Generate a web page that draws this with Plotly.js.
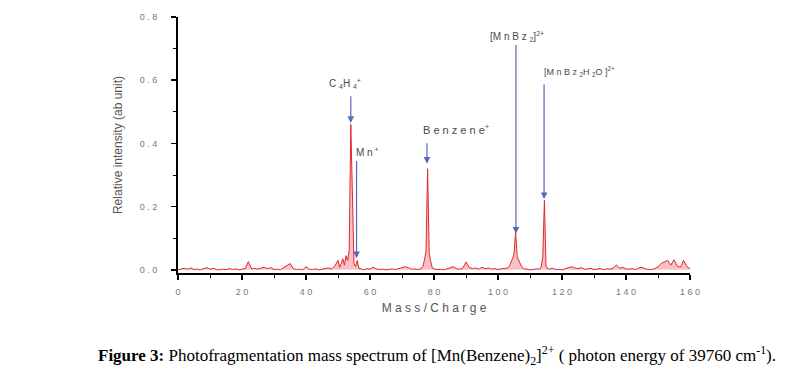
<!DOCTYPE html>
<html>
<head>
<meta charset="utf-8">
<script src="https://cdn.plot.ly/plotly-3.0.1.min.js"></script>
<style>html,body{margin:0;padding:0;background:#fff;}#chart{width:786px;height:380px;}</style>
</head>
<body>
<div id="chart"></div>
<script>
// Mass/Charge values
const massCharge = [
  0,1,2,3,4,5,6,7,8,9,10,11,12,13,14,15,16,17,18,19,20,21,22,23,24,25,26,27,28,29,30,
  31,32,33,34,35,36,37,38,39,40,41,42,43,44,45,46,47,48,49,50,
  50.5,51,51.5,52,52.5,53,53.5,54,54.5,55,55.5,56,56.5,57,57.5,58,
  59,60,61,62,63,64,65,66,67,68,69,70,71,72,73,74,75,76,
  76.5,77,77.5,78,78.5,79,79.5,
  80,81,82,83,84,85,86,87,88,89,90,91,92,93,94,95,96,97,98,99,100,101,102,103,
  103.5,104,104.5,105,105.5,106,106.5,107,107.5,
  108,109,110,111,112,113,
  113.5,114,114.5,115,115.5,
  116,117,118,119,120,121,122,123,124,125,126,127,128,129,130,131,132,133,134,135,
  136,137,138,139,140,141,142,143,144,145,146,147,148,149,150,151,152,153,154,155,
  156,157,158,159,160
];
// Relative intensity (ab unit)
const intensity = [
  0.000,0.003,0.005,0.002,0.006,0.001,0.002,0.000,0.004,0.007,0.002,0.005,0.001,0.000,0.002,0.001,0.004,0.001,0.003,0.000,0.002,0.004,0.026,0.003,0.005,0.002,0.006,0.008,0.004,0.007,0.001,
  0.002,0.000,0.006,0.012,0.020,0.004,0.001,0.002,0.000,0.010,0.002,0.001,0.003,0.000,0.002,0.004,0.006,0.003,0.012,0.030,
  0.008,0.020,0.035,0.015,0.045,0.030,0.060,0.460,0.250,0.020,0.010,0.030,0.005,0.003,0.002,0.000,
  0.004,0.002,0.008,0.003,0.001,0.002,0.000,0.001,0.003,0.001,0.004,0.006,0.010,0.007,0.002,0.003,0.001,0.004,
  0.010,0.030,0.060,0.320,0.050,0.025,0.005,
  0.003,0.001,0.002,0.000,0.003,0.006,0.010,0.004,0.002,0.005,0.025,0.008,0.004,0.006,0.002,0.008,0.003,0.006,0.002,0.004,0.001,0.003,0.005,0.006,
  0.010,0.020,0.035,0.050,0.120,0.040,0.030,0.020,0.008,
  0.004,0.002,0.000,0.001,0.003,0.002,
  0.010,0.040,0.220,0.012,0.004,
  0.002,0.005,0.001,0.002,0.000,0.003,0.008,0.010,0.006,0.004,0.007,0.002,0.003,0.005,0.001,0.002,0.004,0.001,0.003,0.002,
  0.006,0.015,0.005,0.008,0.003,0.002,0.004,0.001,0.006,0.008,0.003,0.002,0.001,0.004,0.010,0.020,0.025,0.030,0.015,0.032,
  0.012,0.008,0.030,0.010,0.004
];
// Tick labels
const xTickVals = [0,20,40,60,80,100,120,140,160];
const xTickText = ["0","2 0","4 0","6 0","8 0","1 0 0","1 2 0","1 4 0","1 6 0"];
const yTickVals = [0,0.2,0.4,0.6,0.8];
const yTickText = ["0 . 0","0 . 2","0 . 4","0 . 6","0 . 8"];
// Peak labels
const peakLabels = ["C <sub>4</sub>H <sub>4</sub><sup>+</sup>","M n<sup> +</sup>","B e n z e n e<sup>+</sup>","[M n B z <sub>2</sub>]<sup>2+</sup>","[M n B z <sub>2</sub>H <sub>2</sub>O ]<sup>2+</sup>"];
const labelX = [52.2, 59.3, 86.9, 105.9, 125.6];
const labelY = [0.591, 0.374, 0.445, 0.738, 0.629];
const labelSize = [10, 10, 11, 10, 9];
const arrowX = [54, 55.8, 77.8, 105.6, 114.4];
const arrowTailY = [0.554, 0.349, 0.405, 0.716, 0.591];
const arrowHeadY = [0.465, 0.037, 0.336, 0.115, 0.224];

const annotations = [];
for (let i = 0; i < peakLabels.length; i++) {
  annotations.push({
    x: labelX[i], y: labelY[i], xref: 'x', yref: 'y', text: peakLabels[i], showarrow: false,
    font: {family: 'Liberation Sans, Arial, sans-serif', size: labelSize[i], color: '#4a4a4a'}
  });
  annotations.push({
    x: arrowX[i], y: arrowHeadY[i], ax: arrowX[i], ay: arrowTailY[i], axref: 'x', ayref: 'y',
    xref: 'x', yref: 'y', text: '', showarrow: true, arrowhead: 2, arrowsize: 1.1, arrowwidth: 1.2,
    arrowcolor: '#5a66bd', standoff: 0
  });
}
annotations.push({
  xref: 'paper', yref: 'paper', x: -0.16, y: -0.323, xanchor: 'left', yanchor: 'middle', showarrow: false,
  text: '<b>Figure 3:</b> Photofragmentation mass spectrum of [Mn(Benzene)<sub>2</sub>]<sup>2+</sup> ( photon energy of 39760 cm<sup>-1</sup>).',
  font: {family: 'Liberation Serif, Times New Roman, serif', size: 17, color: '#000'}
});

const trace = {
  x: massCharge, y: intensity, type: 'scatter', mode: 'lines',
  line: {color: '#e3262b', width: 1},
  fill: 'tozeroy', fillcolor: 'rgba(240,120,120,0.45)',
  hoverinfo: 'skip'
};

const axisFont = {family: 'Liberation Sans, Arial, sans-serif', size: 9, color: '#777'};
const layout = {
  width: 786, height: 380,
  margin: {l: 178, r: 96, t: 13, b: 107},
  paper_bgcolor: '#fff', plot_bgcolor: '#fff',
  showlegend: false,
  xaxis: {
    range: [0, 160], tickvals: xTickVals, ticktext: xTickText, tickfont: axisFont,
    ticks: 'outside', ticklen: 5, tickwidth: 1.5, tickcolor: '#000',
    showline: true, linecolor: '#000', linewidth: 2, showgrid: false, zeroline: false,
    minor: {dtick: 10, ticks: 'outside', ticklen: 3, tickcolor: '#000', tickwidth: 1},
    ticklabelstandoff: 4,
    title: {text: 'M a s s / C h a r g e', font: {family: 'Liberation Sans, Arial, sans-serif', size: 12, color: '#555'}, standoff: 8},
    automargin: true
  },
  yaxis: {
    range: [-0.01, 0.8], tickvals: yTickVals, ticktext: yTickText, tickfont: axisFont,
    ticks: 'outside', ticklen: 5, tickwidth: 1.5, tickcolor: '#000',
    showline: true, linecolor: '#000', linewidth: 2, showgrid: false, zeroline: false,
    minor: {dtick: 0.1, ticks: 'outside', ticklen: 3, tickcolor: '#000', tickwidth: 1},
    ticklabelstandoff: 12,
    title: {text: 'Relative intensity (ab unit)', font: {family: 'Liberation Sans, Arial, sans-serif', size: 12, color: '#555'}, standoff: 14},
    automargin: true
  },
  annotations: annotations
};
Plotly.newPlot('chart', [trace], layout, {staticPlot: true, displayModeBar: false});
</script>
</body>
</html>
